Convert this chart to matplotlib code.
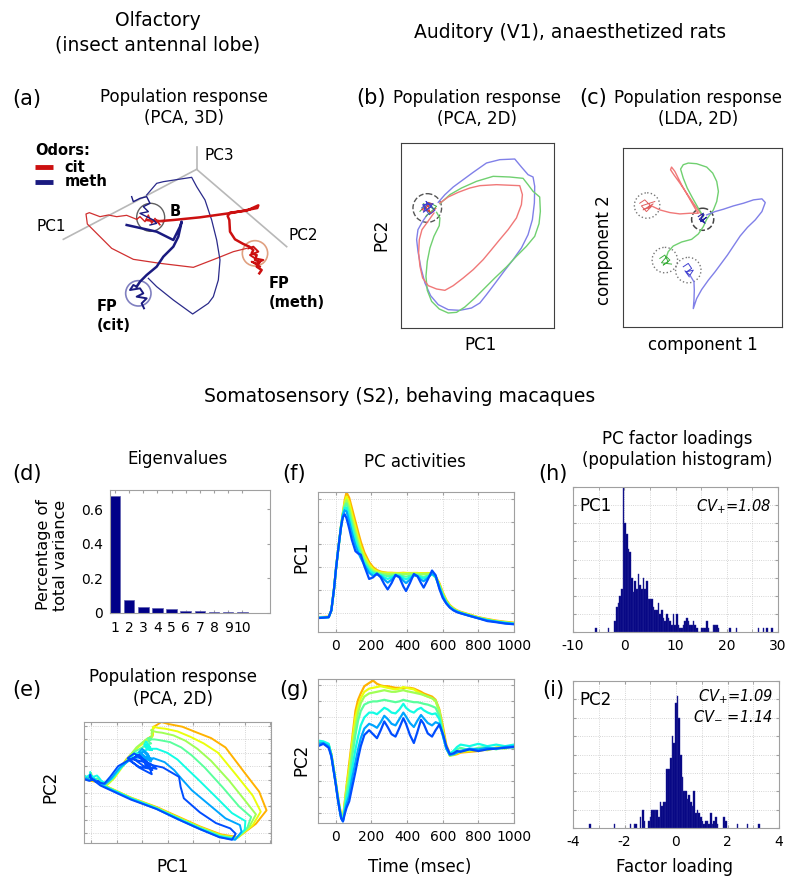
import numpy as np
import matplotlib.pyplot as plt
from matplotlib.patches import Circle
from matplotlib.ticker import MultipleLocator

plt.rcParams['font.family'] = 'DejaVu Sans'
plt.rcParams['axes.unicode_minus'] = False
plt.rcParams['mathtext.fontset'] = 'dejavusans'

# ---------------- data ----------------
# (a) olfactory trajectories, projected 3D PCA (arbitrary units)
red_thin_x = [410, 380, 350, 325, 300, 268, 258, 262, 300, 335, 400, 480, 580, 650, 700, 740]
red_thin_y = [418, 406, 410, 405, 410, 398, 402, 432, 470, 505, 538, 550, 562, 535, 515, 505]
red_thick_x = [440, 470, 520, 600, 700, 772, 775, 740, 690, 683, 688, 690, 705, 730, 748, 760, 755, 770, 765, 780, 770, 785, 778]
red_thick_y = [420, 424, 420, 412, 398, 384, 376, 392, 398, 408, 420, 455, 478, 492, 500, 510, 520, 525, 540, 545, 560, 570, 580]
red_b_x = [410, 420, 435, 445, 455, 465, 480, 470, 490, 440]
red_b_y = [418, 410, 425, 405, 430, 415, 435, 420, 425, 420]
red_fp_x = [745, 760, 775, 750, 765, 790, 770, 755, 780]
red_fp_y = [505, 500, 515, 525, 535, 540, 550, 545, 560]
blue_thin_x = [440, 470, 490, 575, 590, 615, 635, 650, 660, 655, 640, 625, 578, 520, 470, 445]
blue_thin_y = [345, 310, 305, 292, 320, 360, 420, 480, 540, 600, 650, 670, 702, 660, 620, 595]
blue_thick_x = [380, 470, 520, 540, 545, 535, 520, 490, 470, 440, 420, 410]
blue_thick_y = [435, 455, 480, 440, 425, 470, 500, 530, 560, 585, 605, 620]
blue_fp_x = [410, 400, 390, 420, 430, 410, 440, 425, 432]
blue_fp_y = [620, 615, 630, 625, 640, 650, 655, 670, 685]
blue_b_x = [395, 400, 420, 440, 450, 430, 445, 420, 440, 460, 470, 450]
blue_b_y = [350, 365, 355, 350, 370, 380, 395, 400, 410, 420, 430, 435]

# (b) auditory PCA 2D
b_blue_x = [295, 315, 340, 370, 400, 440, 480, 525, 545, 565, 580, 585, 584, 578, 565, 545, 520, 495, 465, 440, 420,
            395, 360, 325, 295, 272, 255, 243, 234, 230, 234, 248, 262]
b_blue_y = [368, 345, 322, 300, 278, 250, 240, 238, 262, 285, 292, 320, 370, 420, 465, 505, 540, 572, 612, 645, 670,
            685, 692, 690, 675, 648, 610, 565, 515, 480, 450, 425, 405]
b_green_x = [300, 330, 365, 410, 460, 510, 550, 565, 580, 600, 602, 598, 585, 560, 530, 500, 465, 435, 405, 375, 350,
             325, 298, 275, 262, 258, 262, 270, 282, 298, 300, 290]
b_green_y = [372, 345, 325, 305, 290, 292, 296, 315, 335, 352, 395, 432, 470, 500, 530, 562, 595, 625, 655, 682, 698,
             700, 688, 665, 632, 590, 545, 505, 470, 438, 415, 398]
b_red_x = [300, 325, 355, 390, 420, 470, 540, 548, 545, 530, 505, 478, 455, 430, 400, 370, 340, 315, 290, 265, 248,
           240, 236, 238, 246, 262, 282]
b_red_y = [370, 352, 338, 325, 318, 315, 318, 345, 375, 415, 450, 482, 510, 540, 570, 595, 618, 632, 628, 618, 595,
           560, 520, 480, 450, 428, 400]
b_nb_x = [245, 262, 250, 275, 258, 285, 268, 248, 280, 262]
b_nb_y = [385, 370, 398, 380, 365, 392, 405, 375, 372, 390]
b_ng_x = [240, 255, 270, 250, 282, 265, 290, 258]
b_ng_y = [395, 380, 400, 372, 388, 368, 380, 410]
b_nr_x = [252, 268, 245, 278, 260, 272, 288]
b_nr_y = [378, 395, 390, 372, 368, 402, 386]

# (c) auditory LDA 2D
c_red_x = [1085, 1060, 1040, 1020, 1002, 992, 995, 1005, 1025, 1045, 1065, 1075, 1050, 1020, 990, 960, 935]
c_red_y = [405, 370, 340, 310, 285, 270, 262, 275, 315, 350, 385, 400, 400, 402, 398, 390, 378]
c_green_x = [1090, 1075, 1058, 1042, 1030, 1022, 1030, 1045, 1070, 1100, 1118, 1130, 1135, 1130, 1120, 1100, 1090,
             1075, 1055, 1025, 1000, 985, 978]
c_green_y = [410, 385, 355, 325, 295, 268, 255, 250, 252, 262, 280, 305, 335, 365, 390, 418, 440, 462, 478, 486, 498,
             515, 535]
c_blue_x = [1100, 1125, 1150, 1180, 1210, 1240, 1265, 1275, 1265, 1245, 1222, 1200, 1180, 1162, 1145, 1125, 1105,
            1085, 1070, 1060, 1062, 1063, 1062, 1050]
c_blue_y = [405, 395, 388, 378, 370, 360, 357, 368, 395, 420, 442, 468, 498, 525, 548, 575, 600, 628, 655, 685, 660,
            630, 605, 585]
c_nc_x = [1075, 1090, 1082, 1100, 1088, 1095, 1078, 1092]
c_nc_y = [410, 400, 425, 412, 420, 430, 418, 405]
c_nr_x = [900, 915, 930, 925, 940, 910, 935, 920, 905, 945]
c_nr_y = [370, 360, 375, 385, 372, 390, 380, 395, 378, 365]
c_ng_x = [960, 975, 985, 970, 990, 980, 965, 995]
c_ng_y = [535, 525, 545, 555, 540, 530, 548, 552]
c_nb_x = [1030, 1045, 1055, 1040, 1060, 1050, 1035, 1048]
c_nb_y = [560, 550, 565, 575, 570, 585, 572, 590]

# (d) eigenvalues
eig_pc = [1, 2, 3, 4, 5, 6, 7, 8, 9, 10]
eig_var = [0.675, 0.073, 0.035, 0.027, 0.023, 0.009, 0.009, 0.008, 0.007, 0.007]

# (f),(g),(e) PC activity traces, one per stimulus
t_ms = [-100, -70, -40, -25, -10, 0, 10, 20, 30, 40, 50, 60, 75, 90, 110, 125, 140, 160, 187, 209,
        231, 252, 272, 291, 313, 335, 357, 379, 394, 416, 438, 458, 478, 493, 516, 540, 560, 581, 600, 620,
        640, 660, 680, 700, 750, 800, 850, 900, 950, 1000]
pc1_0 = [0.76, 0.78, 0.8, 1.1, 2.05, 2.85, 3.55, 4.2, 4.8, 5.2, 5.32, 5.15, 4.7, 4.2, 3.7, 3.6, 3.55, 3.05, 2.48, 2.55,
         2.72, 2.55, 2.25, 2.02, 2.3, 2.66, 2.55, 2.15, 1.95, 2.3, 2.7, 2.6, 2.3, 2.1, 2.45, 2.85, 2.65, 2.05, 1.65, 1.4,
         1.22, 1.1, 1.02, 0.97, 0.86, 0.75, 0.63, 0.58, 0.52, 0.49]
pc1_1 = [0.77, 0.78, 0.8, 1.1, 2.05, 2.85, 3.55, 4.2, 4.82, 5.3, 5.5, 5.45, 5.0, 4.5, 3.95, 3.65, 3.4, 3.1, 2.75, 2.62,
         2.68, 2.6, 2.45, 2.32, 2.45, 2.62, 2.58, 2.4, 2.3, 2.45, 2.64, 2.6, 2.45, 2.38, 2.52, 2.72, 2.6, 2.1, 1.7, 1.42,
         1.24, 1.12, 1.04, 0.98, 0.86, 0.75, 0.66, 0.6, 0.54, 0.5]
pc1_2 = [0.78, 0.79, 0.8, 1.1, 2.05, 2.85, 3.55, 4.2, 4.82, 5.3, 5.6, 5.62, 5.2, 4.7, 4.15, 3.8, 3.5, 3.18, 2.85, 2.72,
         2.7, 2.65, 2.55, 2.48, 2.55, 2.64, 2.62, 2.52, 2.46, 2.55, 2.65, 2.62, 2.55, 2.5, 2.58, 2.7, 2.58, 2.15, 1.75, 1.45,
         1.25, 1.13, 1.05, 0.99, 0.87, 0.76, 0.67, 0.6, 0.55, 0.51]
pc1_3 = [0.78, 0.79, 0.81, 1.1, 2.05, 2.85, 3.55, 4.2, 4.83, 5.32, 5.68, 5.8, 5.42, 4.92, 4.35, 3.95, 3.62, 3.27, 2.93, 2.78,
         2.72, 2.68, 2.64, 2.6, 2.62, 2.66, 2.65, 2.6, 2.58, 2.62, 2.66, 2.65, 2.6, 2.58, 2.62, 2.68, 2.55, 2.18, 1.78, 1.48,
         1.27, 1.14, 1.06, 1.0, 0.88, 0.77, 0.68, 0.61, 0.56, 0.52]
pc1_4 = [0.79, 0.8, 0.81, 1.1, 2.05, 2.85, 3.55, 4.2, 4.84, 5.35, 5.75, 5.95, 5.62, 5.12, 4.55, 4.12, 3.75, 3.38, 3.02, 2.85,
         2.77, 2.73, 2.71, 2.7, 2.7, 2.71, 2.7, 2.69, 2.7, 2.71, 2.72, 2.7, 2.69, 2.7, 2.7, 2.71, 2.55, 2.22, 1.82, 1.5,
         1.29, 1.16, 1.07, 1.01, 0.89, 0.78, 0.69, 0.62, 0.57, 0.53]
pc1_5 = [0.8, 0.8, 0.82, 1.1, 2.05, 2.85, 3.55, 4.2, 4.85, 5.38, 5.85, 6.1, 5.85, 5.35, 4.77, 4.32, 3.9, 3.5, 3.12, 2.92,
         2.82, 2.77, 2.75, 2.74, 2.74, 2.74, 2.73, 2.74, 2.74, 2.73, 2.74, 2.74, 2.73, 2.73, 2.73, 2.72, 2.58, 2.26, 1.86, 1.53,
         1.31, 1.18, 1.08, 1.02, 0.9, 0.79, 0.7, 0.63, 0.58, 0.54]
pc1_6 = [0.8, 0.81, 0.82, 1.1, 2.05, 2.85, 3.55, 4.2, 4.86, 5.4, 5.95, 6.28, 6.05, 5.6, 5.0, 4.55, 4.12, 3.65, 3.22, 3.0,
         2.87, 2.8, 2.77, 2.75, 2.75, 2.74, 2.74, 2.75, 2.74, 2.74, 2.74, 2.74, 2.73, 2.73, 2.74, 2.73, 2.6, 2.3, 1.9, 1.56,
         1.33, 1.2, 1.1, 1.04, 0.92, 0.8, 0.72, 0.65, 0.6, 0.56]
pc2_0 = [0.2, 0.35, 0.1, -0.45, -1.5, -2.2, -3.0, -3.7, -4.3, -4.5, -4.05, -3.65, -3.25, -2.45, -1.4, -0.55, 0.2, 0.9, 1.2, 0.95,
         0.7, 1.2, 1.75, 1.4, 0.95, 0.8, 1.35, 1.95, 1.6, 0.9, 0.4, 1.1, 1.85, 1.6, 1.0, 0.8, 1.2, 1.55, 1.0, 0.2,
         -0.3, -0.25, -0.1, -0.15, 0.0, -0.1, 0.0, 0.05, 0.1, 0.15]
pc2_1 = [0.35, 0.4, 0.2, -0.4, -1.45, -2.2, -3.0, -3.7, -4.3, -4.5, -3.9, -3.4, -2.9, -1.9, -0.8, 0.0, 0.7, 1.3, 1.6, 1.5,
         1.35, 1.7, 2.1, 1.9, 1.6, 1.5, 1.9, 2.3, 2.05, 1.65, 1.4, 1.8, 2.15, 1.95, 1.65, 1.5, 1.7, 1.6, 0.9, 0.05,
         -0.35, -0.3, -0.2, -0.1, 0.05, 0.0, 0.1, 0.05, 0.15, 0.2]
pc2_2 = [0.55, 0.5, 0.35, -0.35, -1.4, -2.15, -2.95, -3.65, -4.25, -4.45, -3.75, -3.1, -2.5, -1.3, 0.0, 0.8, 1.5, 2.0, 2.3, 2.3,
         2.2, 2.4, 2.6, 2.5, 2.3, 2.25, 2.5, 2.85, 2.6, 2.4, 2.3, 2.5, 2.6, 2.45, 2.3, 2.2, 2.25, 1.9, 0.9, 0.05,
         -0.25, -0.1, 0.15, 0.3, 0.2, 0.35, 0.2, 0.3, 0.2, 0.3]
pc2_3 = [0.5, 0.45, 0.3, -0.35, -1.4, -2.15, -2.9, -3.6, -4.2, -4.4, -3.6, -2.8, -2.0, -0.6, 0.9, 1.8, 2.4, 2.8, 2.95, 3.0,
         3.0, 3.05, 3.1, 3.05, 3.0, 2.95, 3.0, 3.1, 3.05, 3.0, 2.95, 2.95, 2.9, 2.85, 2.8, 2.7, 2.6, 2.1, 1.0, 0.1,
         -0.3, -0.2, 0.0, 0.1, -0.05, 0.1, 0.15, 0.0, 0.2, 0.1]
pc2_4 = [0.45, 0.4, 0.25, -0.35, -1.4, -2.1, -2.9, -3.6, -4.2, -4.4, -3.5, -2.6, -1.6, -0.1, 1.4, 2.3, 2.9, 3.3, 3.5, 3.55,
         3.6, 3.65, 3.7, 3.65, 3.6, 3.6, 3.65, 3.7, 3.65, 3.6, 3.55, 3.5, 3.45, 3.4, 3.3, 3.2, 3.05, 2.4, 1.2, 0.1,
         -0.4, -0.35, -0.2, -0.1, 0.0, -0.05, 0.05, 0.1, 0.05, 0.2]
pc2_5 = [0.4, 0.45, 0.25, -0.3, -1.35, -2.1, -2.85, -3.55, -4.15, -4.35, -3.4, -2.4, -1.2, 0.3, 2.0, 2.7, 3.2, 3.6, 3.8, 3.85,
         3.9, 3.95, 3.9, 3.85, 3.8, 3.75, 3.8, 3.9, 3.85, 3.8, 3.75, 3.6, 3.5, 3.4, 3.3, 3.2, 3.0, 2.4, 1.2, 0.1,
         -0.4, -0.3, -0.25, -0.15, -0.1, 0.0, -0.05, 0.1, 0.15, 0.25]
pc2_6 = [0.4, 0.45, 0.25, -0.3, -1.35, -2.05, -2.8, -3.5, -4.1, -4.3, -3.3, -2.3, -0.9, 0.5, 2.4, 3.1, 3.5, 3.95, 4.15, 4.3,
         4.1, 4.0, 3.95, 3.95, 3.9, 3.85, 3.85, 3.8, 3.85, 3.85, 3.8, 3.7, 3.6, 3.5, 3.4, 3.3, 3.1, 2.5, 1.5, 0.3,
         -0.3, -0.35, -0.3, -0.2, -0.15, -0.1, 0.0, 0.1, 0.15, 0.2]

# (h) PC1 factor loading histogram
h1_start, h1_step = -1.75, 0.325
h1_counts = [3, 7, 8, 10, 12, 40, 30, 27, 23, 22, 15, 11, 14, 12, 16, 13, 12, 15, 12, 14,
             9, 9, 9, 7, 6, 6, 8, 5, 6, 4, 3, 5, 4, 3, 2, 5, 2, 5, 2, 1,
             1, 2, 3, 4, 3, 2, 2, 3, 2, 1, 0, 0, 1, 1, 1, 3, 1, 0, 0, 2, 2, 2, 1]
h1_out_x = [-5.5, -3.05, 20.6, 21.9, 26.2, 27.2, 27.8, 28.8]
h1_out_n = [1, 1, 1, 1, 1, 1, 1, 1]
# (i) PC2 factor loading histogram
h2_start, h2_step = -1.052, 0.065
h2_counts = [2, 3, 5, 5, 5, 5, 3, 7, 6, 7, 7, 16, 16, 19, 25, 23, 34, 36, 30, 20,
             14, 10, 10, 8, 9, 7, 6, 10, 4, 5, 4, 3, 2, 1, 2, 2, 1, 4, 1, 2, 3, 1]
h2_out_x = [-3.34, -2.39, -1.77, -1.61, -1.55, -1.38, -1.29, -1.22, 1.87, 1.94, 2.39, 2.78, 3.23]
h2_out_n = [1, 1, 1, 1, 1, 3, 5, 2, 3, 2, 1, 1, 1]

# ---------------- figure ----------------
W, H = 800, 886
fig = plt.figure(figsize=(W / 100, H / 100), dpi=100)


def add_ax(l, t, r, b):
    return fig.add_axes([l / W, 1 - b / H, (r - l) / W, (b - t) / H])


def ftext(x, y, s, **kw):
    kw.setdefault('ha', 'center')
    kw.setdefault('va', 'center')
    fig.text(x / W, 1 - y / H, s, **kw)


def style(ax):
    for s in ax.spines.values():
        s.set_color('#a0a0a0')
        s.set_linewidth(0.8)
    ax.tick_params(which='both', direction='in', length=2.5, color='#a0a0a0',
                   labelsize=10, top=True, right=True, pad=5)
    ax.grid(True, which='both', ls=':', color='#c8c8c8', lw=0.6)
    ax.set_axisbelow(True)


TS = 12      # panel titles
LS = 12      # axis labels
PL = 15      # panel letters

# section headings
ftext(158, 20, 'Olfactory', fontsize=13.5)
ftext(158, 45, '(insect antennal lobe)', fontsize=13.5)
ftext(570, 33, 'Auditory (V1), anaesthetized rats', fontsize=13.5)
ftext(400, 397, 'Somatosensory (S2), behaving macaques', fontsize=13.5)

# ---- (a)
ax = add_ax(0, 130, 340, 346.67)
ax.set_xlim(0, 1020)
ax.set_ylim(800, 150)
ax.axis('off')
for ex, ey in [(590, 200), (190, 478), (860, 500)]:
    ax.plot([590, ex], [268, ey], color='#b8b8b8', lw=1.2)
ax.text(612, 225, 'PC3', fontsize=11, va='center')
ax.text(108, 440, 'PC1', fontsize=11, va='center')
ax.text(865, 465, 'PC2', fontsize=11, va='center')
ax.plot(red_thin_x, red_thin_y, color='#d03030', lw=0.9)
ax.plot(blue_thin_x, blue_thin_y, color='#2a2a8a', lw=0.9)
ax.plot(red_thick_x, red_thick_y, color='#cc1010', lw=1.8)
ax.plot(red_fp_x, red_fp_y, color='#cc1010', lw=1.4)
ax.plot(red_b_x, red_b_y, color='#d02020', lw=1.0)
ax.plot(blue_thick_x, blue_thick_y, color='#1a1a80', lw=1.8)
ax.plot(blue_fp_x, blue_fp_y, color='#1a1a80', lw=1.4)
ax.plot(blue_b_x, blue_b_y, color='#1a1a80', lw=1.0)
ax.add_patch(Circle((452, 412), 42, fill=False, ec='#606060', lw=1.0))
ax.add_patch(Circle((765, 520), 38, fill=False, ec='#e0a080', lw=1.2))
ax.add_patch(Circle((415, 640), 38, fill=False, ec='#8080c0', lw=1.2))
ax.text(510, 395, 'B', fontsize=10.5, weight='bold', va='center')
ax.text(805, 588, 'FP\n(meth)', fontsize=10.5, weight='bold', va='top', linespacing=1.3)
ax.text(290, 658, 'FP\n(cit)', fontsize=10.5, weight='bold', va='top', linespacing=1.3)
ax.text(105, 212, 'Odors:', fontsize=10.5, weight='bold', va='center')
ax.plot([105, 160], [262, 262], color='#cc1010', lw=3.5, solid_capstyle='butt')
ax.plot([105, 160], [305, 305], color='#1a1a80', lw=3.5, solid_capstyle='butt')
ax.text(193, 262, 'cit', fontsize=10.5, weight='bold', va='center')
ax.text(193, 305, 'meth', fontsize=10.5, weight='bold', va='center')
ftext(27, 99, '(a)', fontsize=PL)
ftext(184, 97, 'Population response', fontsize=TS)
ftext(184, 118, '(PCA, 3D)', fontsize=TS)

# ---- (b)
ax = add_ax(401, 143, 554, 328)
ax.set_xlim(183, 643)
ax.set_ylim(745, 190)
ax.set_xticks([])
ax.set_yticks([])
for s in ax.spines.values():
    s.set_color('#404040')
ax.plot(b_blue_x, b_blue_y, color='#8080e8', lw=1.0)
ax.plot(b_green_x, b_green_y, color='#70d070', lw=1.0)
ax.plot(b_red_x, b_red_y, color='#f07878', lw=1.0)
ax.plot(b_ng_x, b_ng_y, color='#40b040', lw=0.7)
ax.plot(b_nr_x, b_nr_y, color='#e04040', lw=0.7)
ax.plot(b_nb_x, b_nb_y, color='#4040d0', lw=0.7)
ax.add_patch(Circle((262, 385), 43, fill=False, ec='#555555', lw=1.0, ls='--'))
ftext(371, 98, '(b)', fontsize=PL)
ftext(477, 98, 'Population response', fontsize=TS)
ftext(477, 119, '(PCA, 2D)', fontsize=TS)
ftext(381, 235, 'PC2', fontsize=LS, rotation=90)
ftext(480, 345, 'PC1', fontsize=LS)

# ---- (c)
ax = add_ax(623, 148, 782, 327)
ax.set_xlim(850, 1325)
ax.set_ylim(740, 205)
ax.set_xticks([])
ax.set_yticks([])
for s in ax.spines.values():
    s.set_color('#404040')
ax.plot(c_red_x, c_red_y, color='#f07878', lw=1.0)
ax.plot(c_green_x, c_green_y, color='#70d070', lw=1.0)
ax.plot(c_blue_x, c_blue_y, color='#8080e8', lw=1.0)
ax.plot(c_nr_x, c_nr_y, color='#e06060', lw=0.7)
ax.plot(c_ng_x, c_ng_y, color='#40b040', lw=0.7)
ax.plot(c_nb_x, c_nb_y, color='#4040d0', lw=0.7)
ax.plot(c_nc_x, c_nc_y, color='#2020a0', lw=0.8)
ax.add_patch(Circle((1088, 418), 33, fill=False, ec='#444444', lw=1.1, ls='--'))
for cx, cy in [(922, 377), (975, 540), (1045, 570)]:
    ax.add_patch(Circle((cx, cy), 38, fill=False, ec='#777777', lw=1.0, ls=':'))
ftext(593, 98, '(c)', fontsize=PL)
ftext(698, 98, 'Population response', fontsize=TS)
ftext(698, 119, '(LDA, 2D)', fontsize=TS)
ftext(604, 250, 'component 2', fontsize=LS, rotation=90)
ftext(703, 345, 'component 1', fontsize=LS)

# ---- (d)
ax = add_ax(110, 490, 270, 613)
ax.bar(eig_pc, eig_var, width=0.75, color='#000088', edgecolor='#6060b0', lw=0.5)
ax.set_xlim(0.65, 11.96)
ax.set_ylim(0, 0.71)
ax.set_xticks(eig_pc)
ax.set_yticks([0, 0.2, 0.4, 0.6])
ax.set_yticklabels(['0', '0.2', '0.4', '0.6'])
style(ax)
ax.grid(False)
ax.tick_params(axis='x', pad=6)
ftext(27, 474, '(d)', fontsize=PL)
ftext(178, 459, 'Eigenvalues', fontsize=TS)
ftext(52, 555, 'Percentage of\ntotal variance', fontsize=11.5, rotation=90, linespacing=1.1)

# colours of the stimulus traces
pc1_all = [pc1_0, pc1_1, pc1_2, pc1_3, pc1_4, pc1_5, pc1_6]
pc2_all = [pc2_0, pc2_1, pc2_2, pc2_3, pc2_4, pc2_5, pc2_6]
cols = plt.cm.jet(np.linspace(0.2, 0.72, len(pc1_all)))
order = range(len(pc1_all) - 1, -1, -1)

# ---- (f)
ax = add_ax(318, 492, 514, 632)
for k in order:
    ax.plot(t_ms, pc1_all[k], color=cols[k], lw=1.6)
ax.set_xlim(-100, 1000)
ax.set_ylim(0.15, 6.3)
ax.set_xticks([0, 200, 400, 600, 800, 1000])
ax.set_yticks([1, 2, 3, 4, 5, 6])
ax.set_yticklabels([])
style(ax)
ftext(294, 474, '(f)', fontsize=PL)
ftext(415, 462, 'PC activities', fontsize=TS)
ftext(301, 557, 'PC1', fontsize=LS, rotation=90)

# ---- (g)
ax = add_ax(318, 679, 514, 823)
for k in order:
    ax.plot(t_ms, pc2_all[k], color=cols[k], lw=1.6)
ax.set_xlim(-100, 1000)
ax.set_ylim(-4.6, 4.4)
ax.set_xticks([0, 200, 400, 600, 800, 1000])
ax.set_yticks([-4, -3, -2, -1, 0, 1, 2, 3, 4])
ax.set_yticklabels([])
style(ax)
ftext(294, 690, '(g)', fontsize=PL)
ftext(301, 760, 'PC2', fontsize=LS, rotation=90)
ftext(420, 867, 'Time (msec)', fontsize=LS)

# ---- (e)
ax = add_ax(84, 722, 271, 843)
for k in order:
    ax.plot(pc1_all[k], pc2_all[k], color=cols[k], lw=1.4)
ax.set_xlim(0.585, 6.42)
ax.set_ylim(-4.74, 4.3)
ax.xaxis.set_major_locator(MultipleLocator(0.8))
ax.yaxis.set_major_locator(MultipleLocator(1))
ax.set_xticklabels([])
ax.set_yticklabels([])
style(ax)
ftext(27, 690, '(e)', fontsize=PL)
ftext(173, 677, 'Population response', fontsize=TS)
ftext(173, 699, '(PCA, 2D)', fontsize=TS)
ftext(50, 787, 'PC2', fontsize=LS, rotation=90)
ftext(172, 867, 'PC1', fontsize=LS)

# ---- (h)
ax = add_ax(573, 487, 778, 632)
h1_x = h1_start + h1_step * np.arange(len(h1_counts))
ax.bar(h1_x, h1_counts, width=h1_step, color='#000080', edgecolor='#2a2a9a', lw=0.3)
ax.bar(h1_out_x, h1_out_n, width=h1_step, color='#000080', edgecolor='#2a2a9a', lw=0.3)
ax.set_xlim(-10, 30)
ax.set_ylim(0, 40)
ax.set_xticks([-10, 0, 10, 20, 30])
ax.xaxis.set_minor_locator(MultipleLocator(5))
ax.yaxis.set_major_locator(MultipleLocator(5))
ax.set_yticklabels([])
style(ax)
ax.text(0.03, 0.93, 'PC1', transform=ax.transAxes, fontsize=LS, va='top')
ax.text(0.97, 0.93, r'$CV_{+}$=1.08', transform=ax.transAxes, fontsize=10.5,
        va='top', ha='right', style='italic')
ftext(553, 474, '(h)', fontsize=PL)
ftext(677, 439, 'PC factor loadings', fontsize=TS)
ftext(677, 460, '(population histogram)', fontsize=TS)

# ---- (i)
ax = add_ax(573, 681, 779, 828)
h2_x = h2_start + h2_step * np.arange(len(h2_counts))
ax.bar(h2_x, h2_counts, width=h2_step, color='#000080', edgecolor='#2a2a9a', lw=0.3)
ax.bar(h2_out_x, h2_out_n, width=h2_step, color='#000080', edgecolor='#2a2a9a', lw=0.3)
ax.set_xlim(-4, 4)
ax.set_ylim(0, 40)
ax.set_xticks([-4, -2, 0, 2, 4])
ax.xaxis.set_minor_locator(MultipleLocator(1))
ax.yaxis.set_major_locator(MultipleLocator(5))
ax.set_yticklabels([])
style(ax)
ax.text(0.03, 0.93, 'PC2', transform=ax.transAxes, fontsize=LS, va='top')
ax.text(0.97, 0.96, r'$CV_{+}$=1.09' + '\n' + r'$CV_{-}$ =1.14', transform=ax.transAxes,
        fontsize=10.5, va='top', ha='right', style='italic', linespacing=1.2)
ftext(553, 690, '(i)', fontsize=PL)
ftext(675, 867, 'Factor loading', fontsize=LS)

fig.savefig('out.png', dpi=100)
